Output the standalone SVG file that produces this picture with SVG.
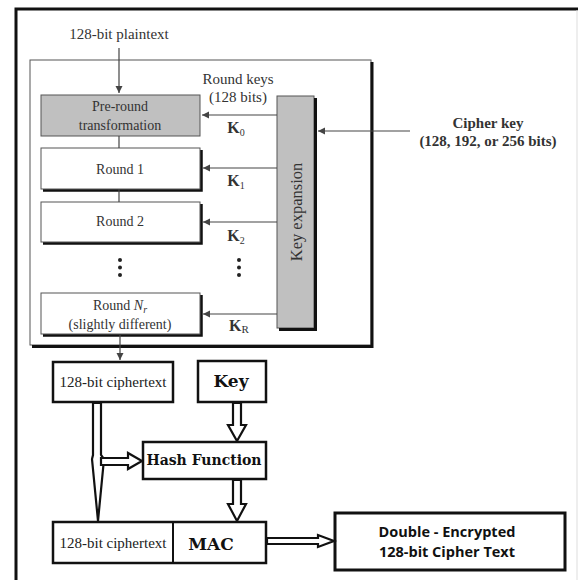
<svg xmlns="http://www.w3.org/2000/svg" width="578" height="580" viewBox="0 0 578 580">
<defs>
<marker id="ah" markerWidth="8" markerHeight="8" refX="7" refY="4" orient="auto" markerUnits="userSpaceOnUse">
<path d="M0,0.5 L7,4 L0,7.5 z" fill="#444"/>
</marker>
<style>
.ser{font-family:"Liberation Serif","Times New Roman",serif;fill:#333;text-anchor:middle}
.bs{font-family:"DejaVu Serif","Liberation Serif",serif;font-weight:bold;fill:#111;text-anchor:middle}
.sans{font-family:"Open Sans","Liberation Sans",sans-serif;font-weight:bold;fill:#111;font-size:14.5px;text-anchor:middle}
.thin{fill:#fff;stroke:#555;stroke-width:1}
.gray{fill:#c0c0c0;stroke:#555;stroke-width:1}
.shadow{fill:none;stroke:#111;stroke-width:2.5}
.box{fill:#fff;stroke:#111;stroke-width:2.5}
.ln{stroke:#444;stroke-width:1.2;fill:none}
.hol{fill:#fff;stroke:#111;stroke-width:2.2;stroke-linejoin:miter}
.kl{font-family:"Liberation Serif","Times New Roman",serif;fill:#333;font-weight:bold;text-anchor:middle}
</style>
</defs>
<rect width="578" height="580" fill="#fff"/>
<path d="M16,580 V9 H578" fill="none" stroke="#111" stroke-width="3"/>
<line x1="577" y1="10" x2="577" y2="580" stroke="#ddd" stroke-width="1"/>

<g id="aes-frame">
<rect x="30" y="60" width="341" height="285" class="thin"/>
<path d="M372,62 V346.5 H32" class="shadow" style="stroke-width:3"/>
</g>

<g id="plaintext"><text x="119" y="39" class="ser" font-size="15">128-bit plaintext</text></g>

<g id="preround">
<rect x="41" y="95" width="159" height="41" class="gray"/>
<text x="120" y="111" class="ser" font-size="14">Pre-round</text>
<text x="120" y="130" class="ser" font-size="14">transformation</text>
</g>
<g id="round1">
<rect x="41" y="148" width="159" height="41" class="thin"/>
<path d="M201.5,150 V190.5 H43" class="shadow"/>
<text x="120" y="174" class="ser" font-size="14">Round 1</text>
</g>
<g id="round2">
<rect x="41" y="202" width="159" height="40" class="thin"/>
<path d="M201.5,204 V243.5 H43" class="shadow"/>
<text x="120" y="226" class="ser" font-size="14">Round 2</text>
</g>
<g id="dots">
<circle cx="120" cy="260" r="2" fill="#222"/><circle cx="120" cy="267.5" r="2" fill="#222"/><circle cx="120" cy="275" r="2" fill="#222"/>
<circle cx="239" cy="260" r="2" fill="#222"/><circle cx="239" cy="267.5" r="2" fill="#222"/><circle cx="239" cy="275" r="2" fill="#222"/>
</g>
<g id="roundnr">
<rect x="41" y="293" width="159" height="41" class="thin"/>
<path d="M201.5,295 V335.5 H43" class="shadow"/>
<text x="120" y="310" class="ser" font-size="14">Round <tspan font-style="italic">N</tspan><tspan font-style="italic" font-size="10" dy="3">r</tspan></text>
<text x="120" y="329" class="ser" font-size="14">(slightly different)</text>
</g>
<g id="keyexp">
<rect x="277" y="96" width="37" height="232" class="gray"/>
<path d="M315.5,98 V329.5 H279" class="shadow" style="stroke-width:3"/>
<text x="0" y="0" class="ser" font-size="16.5" transform="translate(301.5,212) rotate(-90)">Key expansion</text>
</g>
<g id="roundkeys">
<text x="238" y="84" class="ser" font-size="15">Round keys</text>
<text x="238" y="102" class="ser" font-size="15">(128 bits)</text>
</g>
<g id="klabels">
<text x="236" y="133" class="kl" font-size="16">K<tspan font-size="10" font-weight="normal" dy="3">0</tspan></text>
<text x="236" y="186" class="kl" font-size="16">K<tspan font-size="10" font-weight="normal" dy="3">1</tspan></text>
<text x="236" y="241" class="kl" font-size="16">K<tspan font-size="10" font-weight="normal" dy="3">2</tspan></text>
<text x="239" y="331" class="kl" font-size="16">K<tspan font-size="11" font-weight="normal" dy="2">R</tspan></text>
</g>
<g id="cipherkey">
<text x="488" y="128" class="kl" font-size="15">Cipher key</text>
<text x="488" y="146" class="kl" font-size="15">(128, 192, or 256 bits)</text>
</g>

<g id="ct1">
<rect x="53" y="362" width="120" height="40" class="box"/>
<text x="113" y="387" class="ser" font-size="15" style="fill:#222">128-bit ciphertext</text>
</g>
<g id="key">
<rect x="198" y="361" width="68" height="41" class="box"/>
<text x="231" y="387" class="bs" font-size="17">Key</text>
</g>
<g id="hash">
<rect x="143" y="442" width="123" height="37" class="box"/>
<text x="204" y="465" class="bs" font-size="14">Hash Function</text>
</g>
<g id="mac">
<rect x="53" y="522" width="213" height="41" class="box"/>
<line x1="173" y1="522" x2="173" y2="563" stroke="#111" stroke-width="2"/>
<text x="113" y="548" class="ser" font-size="15" style="fill:#222">128-bit ciphertext</text>
<text x="211" y="550" class="bs" font-size="17">MAC</text>
</g>
<g id="double">
<rect x="335" y="513" width="230" height="57" class="box" style="stroke-width:3"/>
<text x="447" y="537" class="sans">Double - Encrypted</text>
<text x="447" y="557" class="sans">128-bit Cipher Text</text>
</g>

<g id="connectors">
<line x1="119" y1="48" x2="119" y2="93" class="ln" marker-end="url(#ah)"/>
<line x1="119" y1="136" x2="119" y2="148" class="ln"/>
<line x1="119" y1="189" x2="119" y2="202" class="ln"/>
<line x1="120" y1="335" x2="120" y2="360" class="ln" marker-end="url(#ah)"/>
<line x1="277" y1="115" x2="202" y2="115" class="ln" marker-end="url(#ah)"/>
<line x1="277" y1="168" x2="203" y2="168" class="ln" marker-end="url(#ah)"/>
<line x1="277" y1="222" x2="203" y2="222" class="ln" marker-end="url(#ah)"/>
<line x1="277" y1="314" x2="203" y2="314" class="ln" marker-end="url(#ah)"/>
<line x1="410" y1="131" x2="318" y2="131" class="ln" marker-end="url(#ah)"/>
<polygon class="hol" points="233,403 241,403 241,425 246,425 237,441 228,425 233,425"/>
<polygon class="hol" points="233,480 241,480 241,504 246,504 237,521 228,504 233,504"/>
<polygon class="hol" points="93,403 101,403 101,455 104,459 98,521 92,459 93,455"/>
<polygon class="hol" points="101,458 128,458 128,453 142,461 128,469 128,465 101,465"/>
<polygon class="hol" points="267,538 318,538 318,535 334,541 318,547 318,544 267,544"/>
</g>
</svg>
